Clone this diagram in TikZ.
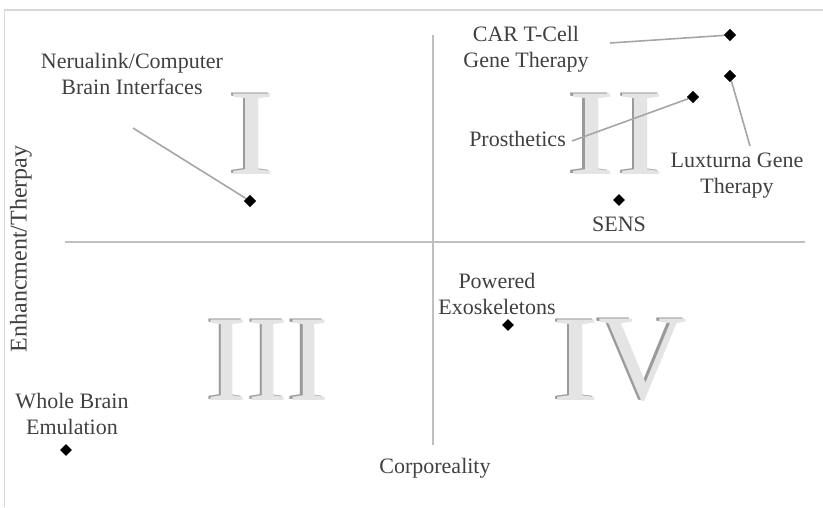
\documentclass[tikz,border=0pt]{standalone}
\usepackage{fontspec}
\setmainfont{Liberation Serif}
\usetikzlibrary{shapes.geometric}
\definecolor{txt}{HTML}{404040}
\definecolor{axisc}{HTML}{BFBFBF}
\definecolor{leadc}{HTML}{A6A6A6}
\definecolor{framec}{HTML}{D9D9D9}
\definecolor{numfill}{HTML}{E4E4E4}
\definecolor{numshade}{HTML}{9A9A9A}
\tikzset{
  pt/.style={diamond, fill=black, minimum size=12pt, inner sep=0pt},
  lbl/.style={text=txt, font=\fontsize{22}{26}\selectfont, align=center, inner sep=0pt},
  leader/.style={draw=leadc, line width=1.6pt},
  axisline/.style={draw=axisc, line width=1.2pt},
  bignum/.style={font=\fontsize{123}{123}\selectfont, inner sep=0pt, text=numfill},
  bigshade/.style={font=\fontsize{123}{123}\selectfont, inner sep=0pt, text=numshade}
}
\begin{document}
\begin{tikzpicture}[x=1pt,y=-1pt]
\useasboundingbox (0,0) rectangle (823,507);
% frame
\coordinate (f1) at (4.5,507);
\coordinate (f2) at (4.5,10);
\coordinate (f3) at (823,10);
\draw[framec, line width=1.5pt] (f1) -- (f2) -- (f3);
% big numerals, glyph by glyph
\foreach \t/\x/\y/\s/\n in {I/252.5/134/1.15/gI1,
                            I/592/134/1.15/gII1, I/641.5/134/1.15/gII2,
                            III/268/360/1.0/gIII,
                            I/576.5/360/1.15/gIV1, V/642.5/360/1.0/gIV2}{
  \node[bigshade, xscale=\s] at (\x-2.5,\y-1) {\t};
  \node[bignum, xscale=\s] (\n) at (\x,\y) {\t};
}
% axes
\coordinate (hl) at (65,242);
\coordinate (hr) at (805,242);
\coordinate (vt) at (433,35);
\coordinate (vb) at (433,445);
\draw[axisline] (hl) -- (hr);
\draw[axisline] (vt) -- (vb);
\node[lbl, rotate=90, font=\fontsize{24}{28}\selectfont] (ylab) at (21,249) {Enhancment/Therpay};
\node[lbl] (xlab) at (435,468) {Corporeality};
% points
\node[pt] (neu) at (250,201) {};
\node[pt] (car) at (730,35) {};
\node[pt] (lux) at (730,76) {};
\node[pt] (pro) at (693,97) {};
\node[pt] (sens) at (619,200) {};
\node[pt] (exo) at (508,325) {};
\node[pt] (wbe) at (66,450) {};
% labels
\node[lbl] (neuL) at (132,74) {Nerualink/Computer\\Brain Interfaces};
\node[lbl] (carL) at (526,49) {CAR T-Cell\\Gene Therapy};
\node[lbl] (luxL) at (737,176) {Luxturna Gene\\Therapy};
\node[lbl, anchor=east] (proL) at (566,139) {Prosthetics};
\node[lbl] (sensL) at (619,224) {SENS};
\node[lbl] (exoL) at (497,294) {Powered\\Exoskeletons};
\node[lbl] (wbeL) at (72,414) {Whole Brain\\Emulation};
% leader lines
\coordinate (neuE) at (133,128);
\coordinate (carE) at (610,43);
\coordinate (luxE) at (750,146);
\coordinate (proE) at (572,141);
\draw[leader] (neuE) -- (neu);
\draw[leader] (carE) -- (car);
\draw[leader] (luxE) -- (lux);
\draw[leader] (proE) -- (pro);
\node[pt] at (neu) {};
\node[pt] at (car) {};
\node[pt] at (lux) {};
\node[pt] at (pro) {};
\end{tikzpicture}
\end{document}
